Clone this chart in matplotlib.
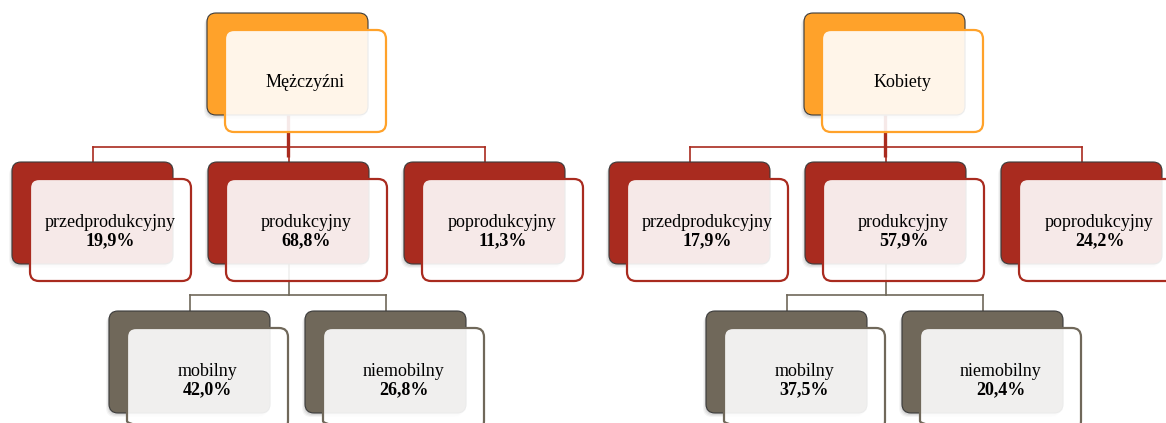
import matplotlib
matplotlib.use("Agg")
import matplotlib.pyplot as plt
from matplotlib.patches import FancyBboxPatch

# ---- data ----
titles = ["Mężczyźni", "Kobiety"]
age_labels = ["przedprodukcyjny", "produkcyjny", "poprodukcyjny"]
men_age = [19.9, 68.8, 11.3]
women_age = [17.9, 57.9, 24.2]
work_labels = ["mobilny", "niemobilny"]
men_work = [42.0, 26.8]
women_work = [37.5, 20.4]

ages = [men_age, women_age]
works = [men_work, women_work]

# ---- style ----
ORANGE = "#FFA22A"
RED = "#A92B1F"
GRAY = "#70685A"
W, H, DX, DY = 161, 102, 18, 17
R = 9
FONT = "Liberation Serif"
FS = 13

fig = plt.figure(figsize=(11.66, 4.23), dpi=100)
ax = fig.add_axes([0, 0, 1, 1])
ax.set_xlim(0, 1166)
ax.set_ylim(423, 0)
ax.axis("off")


def fmt(v):
    return f"{v:.1f}%".replace(".", ",")


def node(x, y, color, line1, line2=None):
    # shadow
    for k, a in enumerate([0.06, 0.05, 0.04]):
        s = FancyBboxPatch((x - 1 - k, y + 2 + k), W, H,
                           boxstyle=f"round,pad=0,rounding_size={R}",
                           fc="black", ec="none", alpha=a, zorder=2)
        ax.add_patch(s)
    back = FancyBboxPatch((x, y), W, H, boxstyle=f"round,pad=0,rounding_size={R}",
                          fc=color, ec="#3a3a3a", lw=0.8, zorder=3)
    ax.add_patch(back)
    front = FancyBboxPatch((x + DX, y + DY), W, H,
                           boxstyle=f"round,pad=0,rounding_size={R}",
                           fc="white", ec="none", alpha=0.9, zorder=4)
    ax.add_patch(front)
    frame = FancyBboxPatch((x + DX, y + DY), W, H,
                           boxstyle=f"round,pad=0,rounding_size={R}",
                           fc="none", ec=color, lw=1.6, zorder=5)
    ax.add_patch(frame)
    cx = x + DX + W / 2
    cy = y + DY + H / 2
    if line2 is None:
        ax.text(cx, cy + 6, line1, ha="center", va="baseline",
                fontsize=FS, family=FONT, color="black", zorder=6)
    else:
        ax.text(cx, cy - 3, line1, ha="center", va="baseline",
                fontsize=FS, family=FONT, color="black", zorder=6)
        ax.text(cx, cy + 15, line2, ha="center", va="baseline",
                fontsize=FS, family=FONT, fontweight="bold", color="black", zorder=6)


for c in range(2):
    off = 597 * c
    tx, ty = 207 + off, 13
    l2x = [12 + off + 196 * i for i in range(3)]
    l2y = 162
    l3x = [109 + off + 196 * j for j in range(2)]
    l3y = 311

    # connectors level1 -> level2
    hy = 147
    top_cx = tx + W / 2
    ax.plot([top_cx, top_cx], [ty + H, hy + 10], color=RED, lw=2.4, zorder=1,
            solid_capstyle="butt")
    ax.plot([l2x[0] + W / 2, l2x[-1] + W / 2], [hy, hy], color=RED, lw=1.2, zorder=1)
    for x in l2x:
        ax.plot([x + W / 2, x + W / 2], [hy, l2y], color=RED, lw=1.2, zorder=1)

    # connectors level2 -> level3
    gy = 295
    mid = l2x[1] + W / 2
    ax.plot([mid, mid], [l2y + H, gy], color=GRAY, lw=1.2, zorder=1)
    ax.plot([l3x[0] + W / 2, l3x[-1] + W / 2], [gy, gy], color=GRAY, lw=1.2, zorder=1)
    for x in l3x:
        ax.plot([x + W / 2, x + W / 2], [gy, l3y], color=GRAY, lw=1.2, zorder=1)

    node(tx, ty, ORANGE, titles[c])
    for i, x in enumerate(l2x):
        node(x, l2y, RED, age_labels[i], fmt(ages[c][i]))
    for j, x in enumerate(l3x):
        node(x, l3y, GRAY, work_labels[j], fmt(works[c][j]))

fig.savefig("out.png", dpi=100)
